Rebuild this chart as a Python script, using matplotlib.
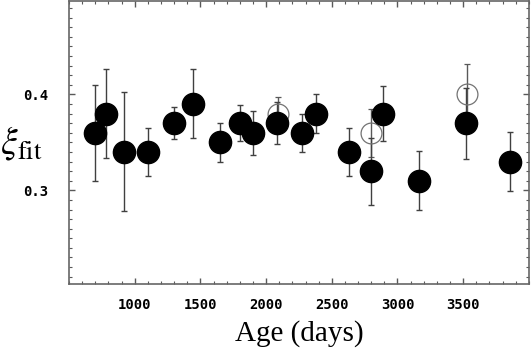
import matplotlib
matplotlib.use('Agg')
import matplotlib.pyplot as plt
from matplotlib.ticker import MultipleLocator

# filled points
ages = [700, 780, 920, 1100, 1300, 1440, 1650, 1800, 1900, 2080, 2270, 2380,
        2630, 2800, 2890, 3160, 3520, 3860]
xi_fit = [0.36, 0.38, 0.34, 0.34, 0.37, 0.39, 0.35, 0.37, 0.36, 0.37, 0.36, 0.38,
          0.34, 0.32, 0.38, 0.31, 0.37, 0.33]
xi_err = [0.05, 0.046, 0.062, 0.025, 0.017, 0.036, 0.02, 0.019, 0.023, 0.022, 0.02, 0.02,
          0.025, 0.035, 0.029, 0.031, 0.037, 0.031]

# open points
ages_open = [2090, 2800, 3530]
xi_open = [0.38, 0.36, 0.40]
err_open = [0.017, 0.025, 0.032]

fig = plt.figure(figsize=(5.31, 3.53), dpi=100)
ax = fig.add_axes([0.130, 0.1955, 0.866, 0.8015])

ax.errorbar(ages_open, xi_open, yerr=err_open, fmt='o', ms=15, mfc='none',
            mec='0.45', mew=0.9, ecolor='0.35', elinewidth=1, capsize=2, capthick=1)
ax.errorbar(ages, xi_fit, yerr=xi_err, fmt='o', ms=16, mfc='black', mec='black',
            ecolor='0.25', elinewidth=1, capsize=2, capthick=1)

ax.set_xlim(500, 4000)
ax.set_ylim(0.2024, 0.4972)
ax.set_xticks([1000, 1500, 2000, 2500, 3000, 3500])
ax.set_yticks([0.3, 0.4])
ax.set_yticklabels(['0.3', '0.4'])
ax.xaxis.set_minor_locator(MultipleLocator(100))
ax.yaxis.set_minor_locator(MultipleLocator(0.01))

ax.tick_params(which='both', direction='in', top=True, right=True, color='0.35')
ax.tick_params(which='major', length=4, width=1)
ax.tick_params(which='minor', length=2, width=0.8)
ax.tick_params(axis='x', which='major', pad=10)
ax.tick_params(axis='y', which='major', pad=15)
for lab in ax.get_xticklabels() + ax.get_yticklabels():
    lab.set_family('DejaVu Sans Mono')
    lab.set_fontweight('bold')
    lab.set_fontsize(10)

for sp in ax.spines.values():
    sp.set_color('0.4')
    sp.set_linewidth(1.2)

plt.rcParams['mathtext.fontset'] = 'stix'
ax.set_xlabel('Age (days)', family='Liberation Serif', fontsize=21, labelpad=6)
fig.text(0.0, 0.595, r'$\xi_{\mathrm{fit}}$', fontsize=27, va='center', ha='left')

fig.savefig('out.png', dpi=100)
